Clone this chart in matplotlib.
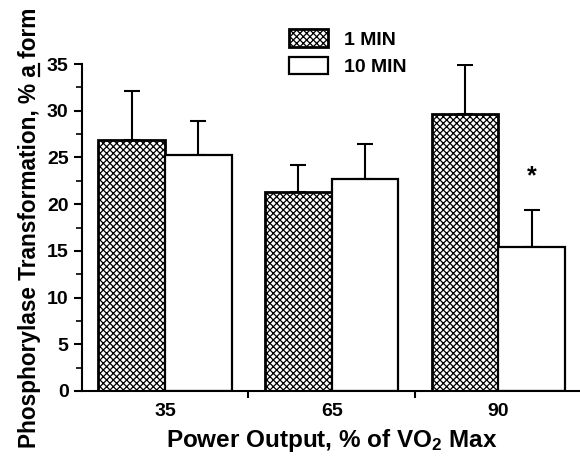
import numpy as np
import matplotlib
matplotlib.use('Agg')
from matplotlib import pyplot as plt
from matplotlib.lines import Line2D
from matplotlib.ticker import MultipleLocator, FixedLocator

# data
groups = ['35', '65', '90']
min1 = [26.9, 21.3, 29.7]
min1_err = [5.2, 2.9, 5.2]
min10 = [25.3, 22.7, 15.4]
min10_err = [3.6, 3.7, 4.0]
star_group = 2
star_y = 23.0

plt.rcParams['font.family'] = ['Liberation Sans', 'DejaVu Sans']
plt.rcParams['font.weight'] = 'bold'
plt.rcParams['mathtext.fontset'] = 'custom'
plt.rcParams['mathtext.rm'] = 'Liberation Sans:bold'
plt.rcParams['mathtext.bf'] = 'Liberation Sans:bold'
plt.rcParams['mathtext.it'] = 'Liberation Sans:bold'
plt.rcParams['hatch.linewidth'] = 0.9

fig = plt.figure(figsize=(5.8, 4.61), dpi=100)
ax = fig.add_axes([0.141, 0.152, 0.862, 0.709])

x = np.arange(len(groups))
w = 0.4
ax.bar(x - w / 2, min1, w, color='white', edgecolor='black', hatch='xxxxx',
       linewidth=2.0, label='1 MIN', zorder=2)
ax.bar(x + w / 2, min10, w, color='white', edgecolor='black',
       linewidth=1.6, label='10 MIN', zorder=2)
ax.errorbar(x - w / 2, min1, yerr=[np.zeros(3), min1_err], fmt='none',
            ecolor='black', elinewidth=1.5, capsize=6, capthick=1.5, zorder=1)
ax.errorbar(x + w / 2, min10, yerr=[np.zeros(3), min10_err], fmt='none',
            ecolor='black', elinewidth=1.5, capsize=6, capthick=1.5, zorder=1)
ax.text(star_group + w / 2, star_y, '*', ha='center', va='center', fontsize=18)

ax.set_xlim(-0.5, 2.5)
ax.set_ylim(0, 35)
ax.spines['top'].set_visible(False)
ax.spines['right'].set_visible(False)
ax.spines['left'].set_linewidth(1.5)
ax.spines['bottom'].set_linewidth(1.5)
ax.spines['left'].set_bounds(0, 35)

ax.yaxis.set_major_locator(MultipleLocator(5))
ax.yaxis.set_minor_locator(MultipleLocator(2.5))
ax.set_xticks(x)
ax.set_xticklabels(groups)
ax.xaxis.set_minor_locator(FixedLocator([0.5, 1.5]))
ax.tick_params(axis='x', which='major', length=0, labelsize=14, pad=9)
ax.tick_params(axis='x', which='minor', length=5, width=1.5, direction='out')
ax.tick_params(axis='y', which='major', length=6, width=1.5, labelsize=14)
ax.tick_params(axis='y', which='minor', length=4, width=1.2)
for lab in ax.get_xticklabels() + ax.get_yticklabels():
    lab.set_fontweight('bold')

ax.set_xlabel('Power Output, % of VO$_2$ Max', fontsize=17.5, fontweight='bold', labelpad=5)
ylab_pre = 'Phosphorylase Transformation, % '
ax.set_ylabel(ylab_pre + 'a form', fontsize=16.3, fontweight='bold', labelpad=4)

ax.legend(loc='upper left', bbox_to_anchor=(0.468, 0.974), bbox_transform=fig.transFigure,
          frameon=False, handlelength=2.0, handleheight=1.0,
          handletextpad=0.85, labelspacing=0.4, prop={'weight': 'bold', 'size': 14})

# underline the "a" in the y label
fig.canvas.draw()
r = fig.canvas.get_renderer()
lab = ax.yaxis.label
prop = lab.get_fontproperties()
bb = lab.get_window_extent(r)
w_all, h_all, d_all = r.get_text_width_height_descent(lab.get_text(), prop, ismath=False)
w_end, _, _ = r.get_text_width_height_descent(ylab_pre + 'a', prop, ismath=False)
w_a, _, _ = r.get_text_width_height_descent('a', prop, ismath=False)
y_start = bb.y0 + (bb.height - w_all) / 2
x_base = bb.x1 - d_all + 2.5
inv = fig.transFigure.inverted()
p0 = inv.transform((x_base, y_start + w_end - w_a))
p1 = inv.transform((x_base, y_start + w_end))
fig.add_artist(Line2D([p0[0], p1[0]], [p0[1], p1[1]], color='black', lw=1.6,
                      transform=fig.transFigure))

fig.savefig('out.png', dpi=100)
